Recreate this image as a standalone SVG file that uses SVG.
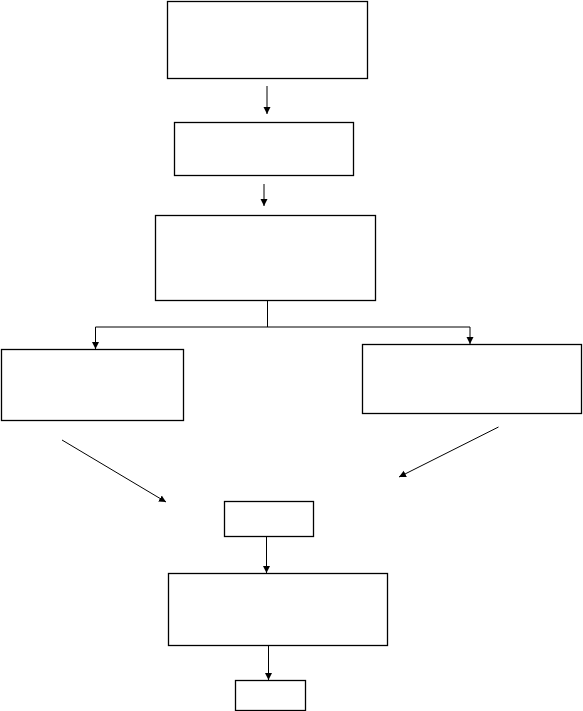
<svg xmlns="http://www.w3.org/2000/svg" width="583" height="711" viewBox="0 0 583 711">
<style>
.box{fill:#fff;stroke:#000;stroke-width:1.3}
.ln{fill:none;stroke:#000;stroke-width:1}
.arr{fill:none;stroke:#000;stroke-width:1;marker-end:url(#ah)}
</style>
<defs>
<marker id="ah" markerUnits="userSpaceOnUse" markerWidth="8" markerHeight="8" refX="7" refY="4" orient="auto">
<path d="M0,0.5 L7,4 L0,7.5 z" fill="#000"/>
</marker>
</defs>
<rect width="583" height="711" fill="#fff"/>
<g id="connectors">
<line class="arr" x1="267" y1="86" x2="267" y2="114"/>
<line class="arr" x1="264" y1="184" x2="264" y2="206"/>
<line class="ln" x1="267.5" y1="300" x2="267.5" y2="327"/>
<line class="ln" x1="95.5" y1="327" x2="470" y2="327"/>
<line class="arr" x1="95.5" y1="327" x2="95.5" y2="349"/>
<line class="arr" x1="470" y1="327" x2="470" y2="344"/>
<line class="arr" x1="62" y1="440" x2="166" y2="502"/>
<line class="arr" x1="498.5" y1="427" x2="399" y2="477"/>
<line class="arr" x1="266.5" y1="536" x2="266.5" y2="573"/>
<line class="arr" x1="268.5" y1="645" x2="268.5" y2="680"/>
</g>
<g id="n1"><rect class="box" x="167.5" y="1.5" width="200" height="77"/></g>
<g id="n2"><rect class="box" x="174.5" y="122.5" width="179" height="53"/></g>
<g id="n3"><rect class="box" x="155.5" y="215.5" width="220" height="85"/></g>
<g id="n4"><rect class="box" x="1.5" y="349.5" width="182" height="71"/></g>
<g id="n5"><rect class="box" x="362.5" y="344.5" width="219" height="69"/></g>
<g id="n6"><rect class="box" x="224.5" y="501.5" width="89" height="35"/></g>
<g id="n7"><rect class="box" x="168.5" y="573.5" width="219" height="72"/></g>
<g id="n8"><rect class="box" x="235.5" y="680.5" width="70" height="30"/></g>
</svg>
